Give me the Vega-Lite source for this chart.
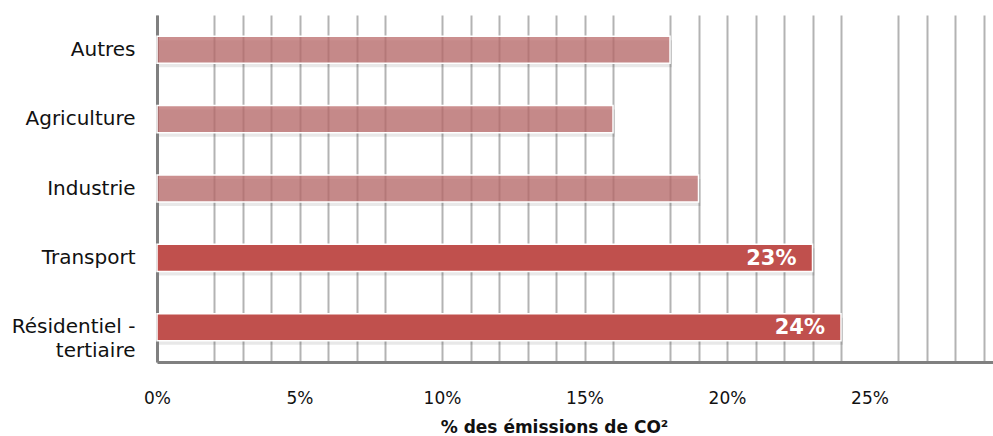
{
  "$schema": "https://vega.github.io/schema/vega-lite/v6.json",
  "width": 855,
  "height": 347,
  "autosize": {"type": "none"},
  "padding": {"left": 157, "top": 15, "right": 0, "bottom": 74},
  "background": "white",
  "config": {"view": {"stroke": null}},
  "data": {
    "values": [
      {"secteur": "Autres", "pct": 18, "groupe": "autre", "etiquette": ""},
      {"secteur": "Agriculture", "pct": 16, "groupe": "autre", "etiquette": ""},
      {"secteur": "Industrie", "pct": 19, "groupe": "autre", "etiquette": ""},
      {"secteur": "Transport", "pct": 23, "groupe": "principal", "etiquette": "23%"},
      {"secteur": "Résidentiel - tertiaire", "pct": 24, "groupe": "principal", "etiquette": "24%"}
    ]
  },
  "encoding": {
    "y": {
      "field": "secteur",
      "type": "nominal",
      "sort": ["Autres", "Agriculture", "Industrie", "Transport", "Résidentiel - tertiaire"],
      "scale": {"paddingInner": 0.61, "paddingOuter": 0.305},
      "axis": {
        "title": null,
        "domain": true,
        "domainColor": "#808080",
        "domainWidth": 3,
        "ticks": false,
        "grid": false,
        "labelFont": "DejaVu Sans",
        "labelFontSize": 20,
        "labelColor": "#111111",
        "labelPadding": 22,
        "labelLineHeight": 24,
        "labelExpr": "datum.label == 'Résidentiel - tertiaire' ? ['Résidentiel -', 'tertiaire'] : datum.label"
      }
    },
    "x": {
      "field": "pct",
      "type": "quantitative",
      "scale": {"domain": [0, 30], "nice": false},
      "axis": {
        "title": "% des émissions de CO²",
        "titleFont": "DejaVu Sans",
        "titleFontSize": 17,
        "titleFontWeight": "bold",
        "titleColor": "#111111",
        "titleX": 397,
        "titlePadding": 13,
        "values": [0,1,2,3,4,5,6,7,8,9,10,11,12,13,14,15,16,17,18,19,20,21,22,23,24,25,26,27,28,29,30],
        "labelExpr": "datum.value % 5 === 0 ? datum.value + '%' : ''",
        "labelFont": "DejaVu Sans",
        "labelFontSize": 17,
        "labelColor": "#111111",
        "labelPadding": 28,
        "labelFlush": false,
        "labelOverlap": false,
        "ticks": false,
        "domain": true,
        "domainColor": "#808080",
        "domainWidth": 3,
        "grid": true,
        "gridColor": "#b3b3b3",
        "gridWidth": 2,
        "gridOpacity": {"condition": {"test": "indexof([1, 9, 17, 25], datum.value) >= 0", "value": 0}, "value": 1}
      }
    }
  },
  "layer": [
    {
      "mark": {"type": "bar", "color": "#000000", "opacity": 0.09, "yOffset": 4, "xOffset": 2},
      "encoding": {}
    },
    {
      "mark": {"type": "bar", "stroke": "white", "strokeWidth": 1.5},
      "encoding": {
        "color": {
          "field": "groupe",
          "type": "nominal",
          "scale": {"domain": ["autre", "principal"], "range": ["rgba(185,105,105,0.75)", "#c0504d"]},
          "legend": null
        }
      }
    },
    {
      "transform": [{"filter": "datum.etiquette != ''"}],
      "mark": {"type": "text", "align": "right", "baseline": "middle", "dx": -16, "dy": 1, "font": "DejaVu Sans", "fontSize": 21, "fontWeight": "bold", "color": "white"},
      "encoding": {"text": {"field": "etiquette", "type": "nominal"}}
    }
  ]
}
